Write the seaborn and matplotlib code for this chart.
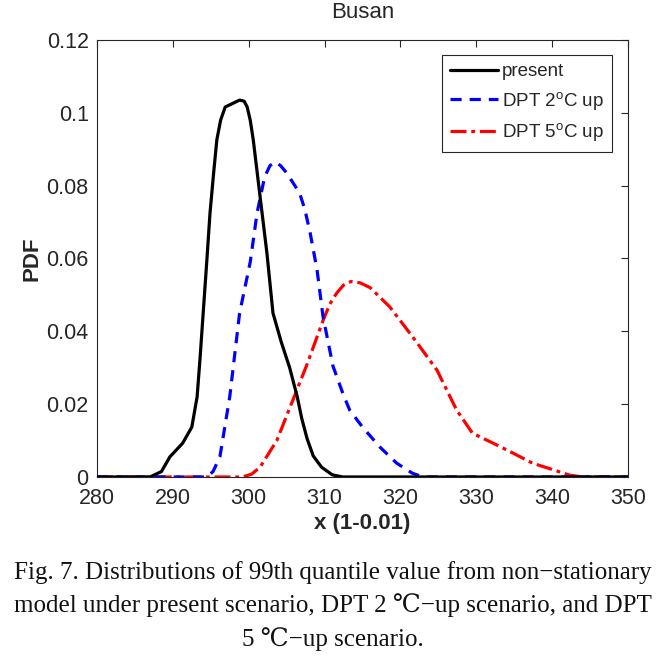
import numpy as np
import pandas as pd
import matplotlib
matplotlib.use("Agg")
import matplotlib.pyplot as plt
import seaborn as sns

# values
present_x = [280, 287, 288.5, 289.6, 291.3, 292.5, 293.2, 293.6, 294.0, 294.5, 294.9, 295.4,
             295.8, 296.3, 296.9, 297.8, 298.8, 299.4, 299.8, 300.2, 300.6, 301.5, 302.4,
             303.2, 304.3, 305.4, 306.4, 307.0, 307.7, 308.5, 309.6, 311.0, 312.4, 350]
present_y = [0, 0, 0.0015, 0.0055, 0.0093, 0.0137, 0.022, 0.033, 0.045, 0.060, 0.0725, 0.084,
             0.0926, 0.098, 0.1016, 0.1025, 0.1035, 0.1032, 0.1016, 0.098, 0.0926, 0.077, 0.0615,
             0.045, 0.037, 0.030, 0.022, 0.016, 0.0105, 0.0058, 0.0027, 0.0006, 0, 0]

dpt2_x = [280, 294.5, 295.3, 296.2, 297.5, 298.8, 300.2, 301.1, 302.1, 302.8, 303.5, 304.2,
          305.0, 306.7, 307.4, 308.1, 309.0, 309.8, 311.1, 312.4, 313.3, 315.0, 317.3, 319.5,
          321.6, 323, 350]
dpt2_y = [0, 0, 0.0015, 0.0055, 0.022, 0.045, 0.059, 0.0725, 0.0824, 0.0855, 0.0865, 0.0855,
          0.0835, 0.078, 0.0735, 0.067, 0.057, 0.044, 0.0305, 0.023, 0.0184, 0.0137, 0.0082,
          0.0038, 0.001, 0, 0]

dpt5_x = [280, 299.2, 300.4, 301.5, 303.7, 305.8, 307.7, 309.8, 310.7, 311.6, 312.5, 313.5,
          314.7, 316.0, 318.6, 321.6, 324.8, 327.4, 329.5, 332.2, 334.8, 337.4, 340.1,
          342.3, 344, 350]
dpt5_y = [0, 0, 0.0008, 0.0027, 0.010, 0.021, 0.031, 0.043, 0.0475, 0.0505, 0.0527, 0.0537,
          0.0533, 0.052, 0.0467, 0.0385, 0.0294, 0.0184, 0.012, 0.0093, 0.0066, 0.0038, 0.002,
          0.0005, 0, 0]

labels = ["present", "DPT 2$^{o}$C up", "DPT 5$^{o}$C up"]
x_ticks = [280, 290, 300, 310, 320, 330, 340, 350]
y_ticks = [0, 0.02, 0.04, 0.06, 0.08, 0.1, 0.12]
y_ticklabels = ["0", "0.02", "0.04", "0.06", "0.08", "0.1", "0.12"]

sns.set_style("white")
plt.rcParams["font.family"] = ["Liberation Sans", "DejaVu Sans"]
plt.rcParams["mathtext.default"] = "regular"

fig = plt.figure(figsize=(6.66, 6.56), dpi=100)
ax = fig.add_axes([0.1456, 0.2729, 0.7974, 0.6661])

sns.lineplot(x=dpt5_x, y=dpt5_y, ax=ax, color="#ff0000", linestyle=(0, (5, 1.5, 1.2, 1.5)),
             linewidth=2.3, label=labels[2], zorder=2)
sns.lineplot(x=dpt2_x, y=dpt2_y, ax=ax, color="#0000ff", linestyle=(0, (3.5, 2.5)),
             linewidth=2.3, label=labels[1], zorder=3)
sns.lineplot(x=present_x, y=present_y, ax=ax, color="black", linestyle="-",
             linewidth=2.3, label=labels[0], zorder=4)

ax.set_xlim(280, 350)
ax.set_ylim(0, 0.12)
ax.set_xticks(x_ticks)
ax.set_yticks(y_ticks)
ax.set_yticklabels(y_ticklabels)
ax.tick_params(direction="in", length=5, width=0.8, top=True, right=True,
               labelsize=15.5, colors="#262626", pad=6)
ax.tick_params(axis="x", pad=8)
for s in ax.spines.values():
    s.set_color("#262626")
    s.set_linewidth(0.8)

ax.set_title("Busan", fontsize=16, color="#262626", pad=16)
ax.set_xlabel("x (1-0.01)", fontsize=16, fontweight="bold", color="#262626", labelpad=3)
ax.set_ylabel("PDF", fontsize=16, fontweight="bold", color="#262626", labelpad=3)

handles, labs = ax.get_legend_handles_labels()
order = [2, 1, 0]
leg = ax.legend([handles[i] for i in order], [labs[i] for i in order],
                loc="upper right", bbox_to_anchor=(0.97, 0.966), borderaxespad=0,
                fontsize=13.5, frameon=True, fancybox=False, framealpha=1,
                edgecolor="#262626", handlelength=2.55, handletextpad=0.2,
                borderpad=0.45, labelspacing=0.5)
leg.get_frame().set_linewidth(0.8)

cap = ("Fig. 7. Distributions of 99th quantile value from non\u2212stationary\n"
       "model under present scenario, DPT 2 \u2103\u2212up scenario, and DPT\n"
       "5 \u2103\u2212up scenario.")
fig.text(0.5, 0.008, cap, ha="center", va="bottom", fontsize=18,
         family=["Liberation Serif", "DejaVu Serif"], linespacing=1.5, color="#111111")

fig.savefig("out.png", dpi=100)
